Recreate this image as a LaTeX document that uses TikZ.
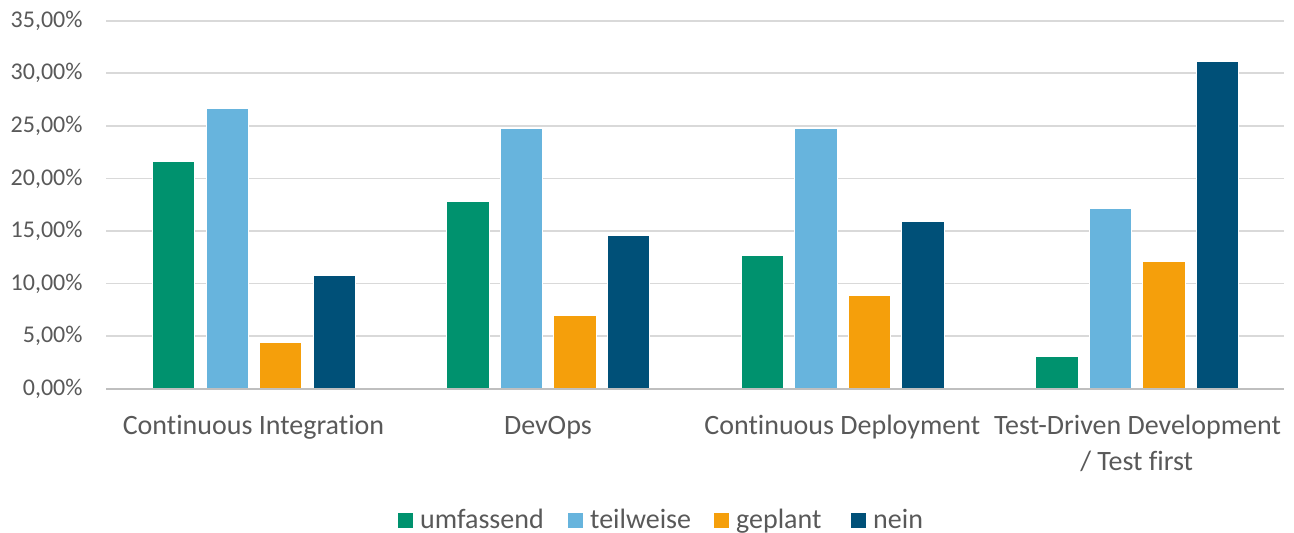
\documentclass[tikz,border=0pt]{standalone}
\usepackage{fontspec}
\setmainfont[Ligatures=NoCommon]{Carlito}
\definecolor{txtgray}{HTML}{595959}
\definecolor{gridgray}{HTML}{D9D9D9}
\definecolor{axisgray}{HTML}{BFBFBF}
\definecolor{cUmf}{HTML}{00926E}
\definecolor{cTeil}{HTML}{67B4DD}
\definecolor{cGep}{HTML}{F59F0B}
\definecolor{cNein}{HTML}{005078}
\tikzset{
  gridline/.style={draw=gridgray, line width=1.8pt},
  axisline/.style={draw=axisgray, line width=2pt},
  bar/.style={draw=white, line width=0.6pt},
  ticklabel/.style={text=txtgray, inner sep=0pt, anchor=east, font=\fontsize{24}{28}\selectfont},
  catlabel/.style={text=txtgray, inner sep=0pt, anchor=base, font=\fontsize{28}{34}\selectfont},
  legtext/.style={text=txtgray, inner sep=0pt, anchor=base west, font=\fontsize{28}{34}\selectfont},
  legbox/.style={inner sep=0pt, minimum size=15pt, anchor=south west},
}
\begin{document}
\begin{tikzpicture}[x=1pt, y=-1pt]
\useasboundingbox (0,0) rectangle (1294,533);
% horizontal grid and y tick labels (5 % = 52.57 units)
\foreach \k/\lab in {1/{5,00\%},2/{10,00\%},3/{15,00\%},4/{20,00\%},5/{25,00\%},6/{30,00\%},7/{35,00\%}}{
  \draw[gridline] (106.3,{388.7-52.57*\k}) -- (1284,{388.7-52.57*\k});
  \node[ticklabel] (tick\k) at (82.7,{388.7-52.57*\k}) {\lab};
}
\node[ticklabel] (tick0) at (82.7,388.7) {0,00\%};
% bars: category centre, then the four bar tops
\foreach \c/\a/\b/\g/\n [count=\j] in {253.5/161.7/108.3/342/275.3, 547.9/201/128/315.7/235.3, 842.3/255.3/128/295/221.7, 1136.7/356/208.3/261.7/61}{
  \filldraw[bar, fill=cUmf]  ({\c-101.2},388.7) rectangle ({\c-101.2+42.4},\a);
  \filldraw[bar, fill=cTeil] ({\c-47.7},388.7)  rectangle ({\c-47.7+42.4},\b);
  \filldraw[bar, fill=cGep]  ({\c+5.8},388.7)   rectangle ({\c+5.8+42.4},\g);
  \filldraw[bar, fill=cNein] ({\c+59.3},388.7)  rectangle ({\c+59.3+42.4},\n);
}
\draw[axisline] (106.3,388.7) -- (1284,388.7);
% category labels
\node[catlabel] (catCI) at (253.5,434.5) {Continuous Integration};
\node[catlabel] (catDO) at (547.9,434.5) {DevOps};
\node[catlabel] (catCD) at (842.3,434.5) {Continuous Deployment};
\node[catlabel] (catTDD) at (1137.5,434.5) {Test-Driven Development};
\node[catlabel] (catTDDb) at (1136.7,470) {/ Test first};
% legend
\node[legbox, fill=cUmf]  (kUmf)  at (398,528.5) {};
\node[legtext] (lUmf)  at (420,528.5) {umfassend};
\node[legbox, fill=cTeil] (kTeil) at (568,528.5) {};
\node[legtext] (lTeil) at (590,528.5) {teilweise};
\node[legbox, fill=cGep]  (kGep)  at (714,528.5) {};
\node[legtext] (lGep)  at (736,528.5) {geplant};
\node[legbox, fill=cNein] (kNein) at (851,528.5) {};
\node[legtext] (lNein) at (873,528.5) {nein};
\end{tikzpicture}
\end{document}
